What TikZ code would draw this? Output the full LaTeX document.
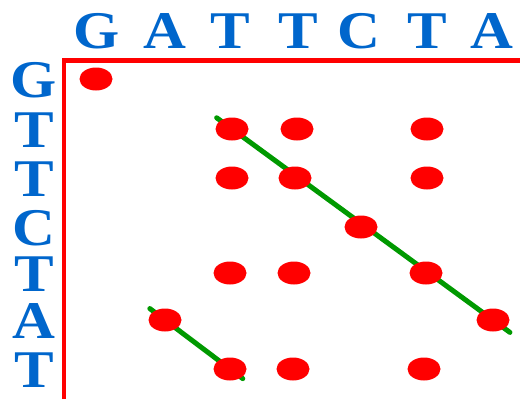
\documentclass[tikz,border=0pt]{standalone}
\usepackage{fontspec}
\usepackage{tikz}
\usetikzlibrary{shapes,positioning,calc,backgrounds}
\newfontfamily\basefont{Liberation Serif}[FakeStretch=1.12]
\definecolor{seqblue}{RGB}{0,102,204}
\definecolor{dotred}{RGB}{255,0,0}
\definecolor{hitgreen}{RGB}{0,153,0}
\tikzset{
  base/.style={text=seqblue, inner sep=0pt, anchor=base, text height=34pt, text depth=0pt, font=\basefont\bfseries\fontsize{53}{53}\selectfont},
  hit/.style={ellipse, fill=dotred, draw=none, minimum width=33pt, minimum height=23pt, inner sep=0pt},
  diag/.style={hitgreen, line width=5pt, line cap=round}
}

\begin{document}
\begin{tikzpicture}[x=1pt, y=-1pt]
    \useasboundingbox (0,0) rectangle (520,399);

    % Sequence along the top
    \node[base] (top1) at (97,48) {G};
    \node[base] (top2) at (165,48) {A};
    \node[base] (top3) at (230,48) {T};
    \node[base] (top4) at (298,48) {T};
    \node[base] (top5) at (359,48) {C};
    \node[base] (top6) at (427,48) {T};
    \node[base] (top7) at (492,48) {A};

    % Sequence down the left side
    \node[base] (left1) at (34,97) {G};
    \node[base] (left2) at (34,147) {T};
    \node[base] (left3) at (34,196) {T};
    \node[base] (left4) at (34,245) {C};
    \node[base] (left5) at (34,291) {T};
    \node[base] (left6) at (34,338) {A};
    \node[base] (left7) at (34,387) {T};

    % Frame
    \draw[dotred, line width=4.5pt] (520,60.5) -- (64,60.5) -- (64,399);

    % Matching positions
    \node[hit] (h11) at (96,79) {};
    \node[hit] (h23) at (232,129) {};
    \node[hit] (h24) at (297,129) {};
    \node[hit] (h26) at (427,129) {};
    \node[hit] (h33) at (232,178) {};
    \node[hit] (h34) at (295,178) {};
    \node[hit] (h36) at (427,178) {};
    \node[hit] (h45) at (361,227) {};
    \node[hit] (h53) at (230,273) {};
    \node[hit] (h54) at (294,273) {};
    \node[hit] (h56) at (426,273) {};
    \node[hit] (h62) at (165,320) {};
    \node[hit] (h67) at (493,320) {};
    \node[hit] (h73) at (230,369) {};
    \node[hit] (h74) at (293,369) {};
    \node[hit] (h76) at (424,369) {};

    % Diagonal runs
    \begin{scope}[on background layer]
        \draw[diag, shorten <=-19pt, shorten >=-21pt] (h23.center) -- (h67.center);
        \draw[diag, shorten <=-19pt, shorten >=-16pt] (h62.center) -- (h73.center);
    \end{scope}
\end{tikzpicture}
\end{document}
